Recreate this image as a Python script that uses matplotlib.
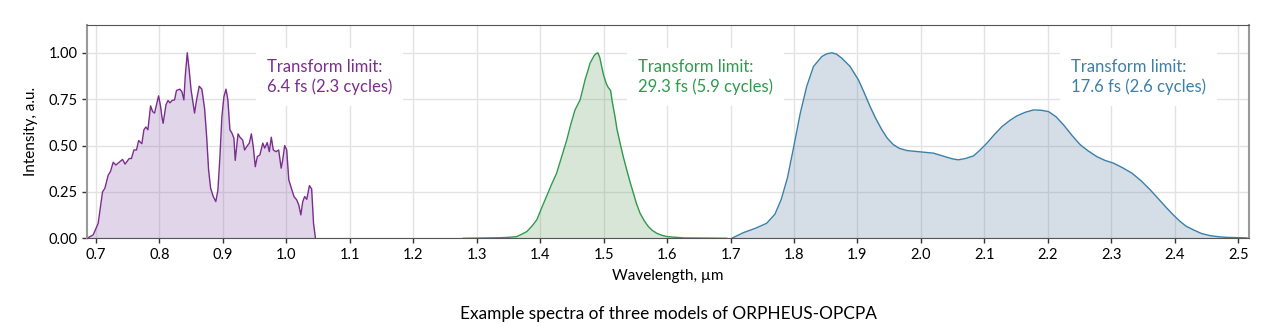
import matplotlib.pyplot as plt

plt.rcParams['font.family'] = ['Lato', 'DejaVu Sans']

# Spectrum 1: ~0.7-1.05 um
wl_1 = [0.686, 0.6957, 0.7036, 0.7105, 0.7142, 0.7194, 0.723, 0.7273, 0.7315, 0.7367,
        0.742, 0.746, 0.7525, 0.756, 0.760, 0.764, 0.7674, 0.7725, 0.7757, 0.7788,
        0.782, 0.7862, 0.7894, 0.7925, 0.7988, 0.802, 0.804, 0.806, 0.8105, 0.8137,
        0.8168, 0.820, 0.824, 0.827, 0.8324, 0.8356, 0.8387, 0.8408, 0.844, 0.847,
        0.850, 0.8555, 0.8587, 0.8628, 0.867, 0.8713, 0.8745, 0.8776, 0.8808, 0.885,
        0.889, 0.8923, 0.8955, 0.8986, 0.9018, 0.905, 0.908, 0.9112, 0.9144, 0.9175,
        0.9196, 0.924, 0.927, 0.9312, 0.9344, 0.9376, 0.9418, 0.945, 0.948, 0.9512,
        0.9544, 0.9585, 0.963, 0.966, 0.970, 0.9733, 0.9764, 0.9796, 0.984, 0.988,
        0.992, 0.9943, 0.9975, 1.0007, 1.004, 1.008, 1.0122, 1.0165, 1.0197, 1.023,
        1.026, 1.029, 1.0323, 1.0365, 1.040, 1.043, 1.046]
int_1 = [0.0, 0.018, 0.08, 0.25, 0.27, 0.34, 0.36, 0.41, 0.395, 0.41,
         0.425, 0.40, 0.43, 0.43, 0.476, 0.476, 0.527, 0.51, 0.585, 0.60,
         0.585, 0.714, 0.683, 0.675, 0.768, 0.71, 0.656, 0.62, 0.72, 0.743,
         0.73, 0.743, 0.746, 0.797, 0.804, 0.79, 0.746, 0.872, 1.0, 0.908,
         0.80, 0.675, 0.746, 0.82, 0.804, 0.70, 0.55, 0.369, 0.27, 0.225,
         0.198, 0.26, 0.44, 0.656, 0.764, 0.804, 0.746, 0.585, 0.567, 0.54,
         0.42, 0.563, 0.545, 0.53, 0.476, 0.494, 0.513, 0.563, 0.494, 0.386,
         0.44, 0.45, 0.513, 0.486, 0.516, 0.467, 0.545, 0.476, 0.467, 0.476,
         0.378, 0.42, 0.50, 0.476, 0.315, 0.27, 0.225, 0.207, 0.18, 0.126,
         0.198, 0.225, 0.21, 0.284, 0.266, 0.08, 0.0]

# Spectrum 2: ~1.3-1.6 um
wl_2 = [1.279, 1.30, 1.3368, 1.35, 1.363, 1.37, 1.379, 1.387, 1.3947, 1.402,
        1.410, 1.418, 1.426, 1.434, 1.442, 1.448, 1.455, 1.463, 1.467, 1.4708,
        1.475, 1.4787, 1.482, 1.485, 1.488, 1.491, 1.494, 1.497, 1.50, 1.504,
        1.507, 1.511, 1.514, 1.518, 1.521, 1.526, 1.531, 1.5365, 1.542, 1.547,
        1.552, 1.5575, 1.564, 1.5706, 1.577, 1.5838, 1.592, 1.60, 1.626, 1.694]
int_2 = [0.0, 0.001, 0.003, 0.005, 0.009, 0.02, 0.036, 0.065, 0.099, 0.16,
         0.225, 0.29, 0.351, 0.44, 0.53, 0.61, 0.692, 0.746, 0.80, 0.854,
         0.90, 0.944, 0.965, 0.984, 0.995, 1.0, 0.975, 0.926, 0.88, 0.836,
         0.815, 0.797, 0.73, 0.656, 0.59, 0.513, 0.44, 0.369, 0.30, 0.243,
         0.185, 0.135, 0.095, 0.063, 0.042, 0.027, 0.016, 0.009, 0.002, 0.0]

# Spectrum 3: ~1.7-2.5 um
wl_3 = [1.702, 1.72, 1.74, 1.757, 1.77, 1.78, 1.79, 1.80, 1.81, 1.82,
        1.8307, 1.8439, 1.852, 1.8597, 1.867, 1.8754, 1.8885, 1.895, 1.9016, 1.91,
        1.92, 1.929, 1.9385, 1.947, 1.9568, 1.966, 1.978, 1.9988, 2.0199, 2.041,
        2.05, 2.0592, 2.07, 2.083, 2.093, 2.104, 2.116, 2.1277, 2.14, 2.1513,
        2.165, 2.1775, 2.19, 2.2012, 2.213, 2.2249, 2.238, 2.2512, 2.264, 2.2774,
        2.29, 2.3036, 2.318, 2.3326, 2.347, 2.3614, 2.375, 2.3877, 2.398, 2.4087,
        2.418, 2.4297, 2.442, 2.456, 2.47, 2.4823, 2.5137]
int_3 = [0.0, 0.03, 0.055, 0.081, 0.13, 0.21, 0.33, 0.50, 0.675, 0.818,
         0.926, 0.98, 0.995, 1.0, 0.993, 0.971, 0.926, 0.89, 0.854, 0.79,
         0.71, 0.645, 0.585, 0.54, 0.504, 0.485, 0.473, 0.466, 0.459, 0.437,
         0.428, 0.423, 0.43, 0.444, 0.475, 0.513, 0.56, 0.602, 0.635, 0.66,
         0.68, 0.692, 0.69, 0.683, 0.655, 0.611, 0.555, 0.504, 0.47, 0.44,
         0.42, 0.405, 0.38, 0.351, 0.31, 0.261, 0.21, 0.162, 0.125, 0.09,
         0.065, 0.045, 0.026, 0.014, 0.008, 0.005, 0.002]

labels = ['Transform limit:\n6.4 fs (2.3 cycles)',
          'Transform limit:\n29.3 fs (5.9 cycles)',
          'Transform limit:\n17.6 fs (2.6 cycles)']
label_x = [0.9695, 1.5543, 2.2369]

line_colors = ['#7b2d8e', '#2e9a4c', '#3a80a8']
fill_colors = ['#8b5bab', '#679f67', '#5b7ba3']

fig = plt.figure(figsize=(12.83, 3.33), dpi=100)
ax = fig.add_axes([0.0678, 0.2844, 0.9057, 0.6406])

series = [(wl_1, int_1), (wl_2, int_2), (wl_3, int_3)]
for (wl, inten), lc, fc, txt, tx in zip(series, line_colors, fill_colors, labels, label_x):
    ax.fill_between(wl, inten, 0, color=fc, alpha=0.25, lw=0, zorder=1)
    ax.plot(wl, inten, color=lc, lw=1.0, zorder=2)
    ax.text(tx, 0.87, txt, color=lc, fontsize=12, ha='left', va='center',
            linespacing=1.3, zorder=3,
            bbox=dict(boxstyle='square,pad=0.65', fc='white', ec='none'))

ax.set_xlim(0.686, 2.517)
ax.set_ylim(0, 1.15)
ax.set_xticks([0.7 + 0.1 * i for i in range(19)])
ax.set_yticks([0, 0.25, 0.5, 0.75, 1.0])
ax.xaxis.set_major_formatter(plt.FormatStrFormatter('%.1f'))
ax.yaxis.set_major_formatter(plt.FormatStrFormatter('%.2f'))
ax.tick_params(labelsize=10.5, length=3.5, width=1, color='#333333')

ax.grid(True, color='#e3e3e3', lw=1)
ax.set_axisbelow(True)
for side in ['top', 'bottom']:
    ax.spines[side].set_color('#555555')
for side in ['left', 'right']:
    ax.spines[side].set_color('#999999')
    ax.spines[side].set_linewidth(1.5)

ax.set_xlabel('Wavelength, µm', fontsize=11, labelpad=5)
ax.set_ylabel('Intensity, a.u.', fontsize=11, labelpad=7)

fig.text(0.5207, 0.057, 'Example spectra of three models of ORPHEUS-OPCPA',
         fontsize=12.4, ha='center', va='center')

fig.savefig('out.png', dpi=100)
